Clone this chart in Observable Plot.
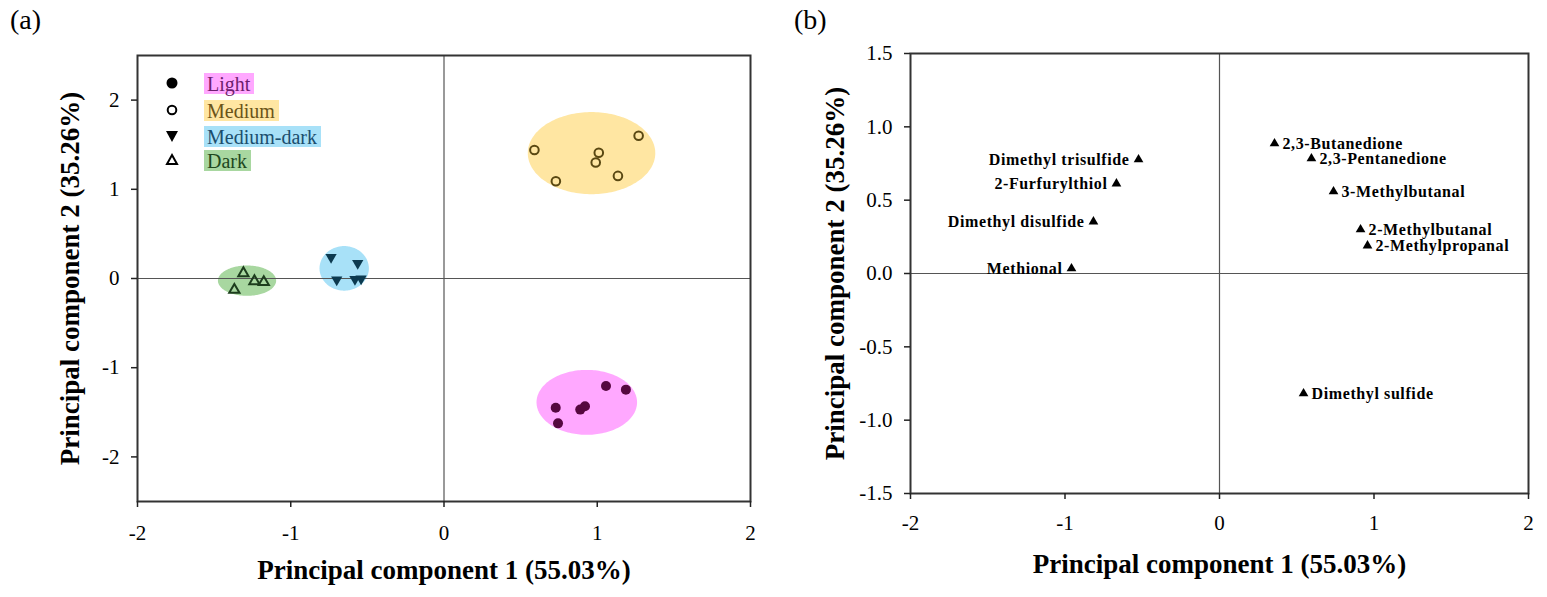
<!DOCTYPE html>
<html>
<head>
<meta charset="utf-8">
<script src="https://cdn.jsdelivr.net/npm/d3@7"></script>
<script src="https://cdn.jsdelivr.net/npm/@observablehq/plot@0.6"></script>
<style>
  body { margin: 0; background: #fff; width: 1547px; height: 597px; position: relative; overflow: hidden;
         font-family: "Liberation Serif", "Times New Roman", serif; }
  .panel { position: absolute; top: 0; }
  #panelA { left: 0; }
  #panelB { left: 780px; }
  /* compound labels are set slightly tracked */
  #panelB g[font-size="16"] text { letter-spacing: 0.6px; }
  .tag { position: absolute; top: 2px; font-size: 28px; line-height: 36px; color: #000; }
  .legend-row { position: absolute; left: 160px; height: 22px; display: flex; align-items: center; }
  .legend-row svg { width: 24px; height: 22px; }
  .legend-row span { margin-left: 20px; font-size: 20px; line-height: 20px; padding: 1px 4px 0 3px; }
</style>
</head>
<body>
<div class="tag" style="left:10px">(a)</div>
<div class="tag" style="left:794px">(b)</div>
<div id="panelA" class="panel"></div>
<div id="panelB" class="panel"></div>
<div id="legend"></div>
<script>
// ---- Score plot: roast levels ----
const roastLevels = ["Light", "Medium", "Medium-dark", "Dark"];

const lightPC1 = [1.057, 1.187, 0.729, 0.889, 0.920, 0.744];
const lightPC2 = [-1.206, -1.246, -1.448, -1.470, -1.433, -1.624];

const mediumPC1 = [0.590, 1.270, 1.010, 0.990, 0.730, 1.135];
const mediumPC2 = [1.440, 1.600, 1.410, 1.300, 1.090, 1.150];

const mediumDarkPC1 = [-0.737, -0.563, -0.700, -0.581, -0.541];
const mediumDarkPC2 = [0.239, 0.171, -0.015, -0.008, -0.003];

const darkPC1 = [-1.309, -1.237, -1.176, -1.368];
const darkPC2 = [0.059, -0.030, -0.041, -0.127];

// Cluster ellipses (same order as roastLevels): centre and semi-axes
const clusterPC1 = [0.935, 0.966, -0.648, -1.282];
const clusterPC2 = [-1.394, 1.400, 0.108, -0.030];
const clusterRadius1 = [0.328, 0.416, 0.161, 0.190];
const clusterRadius2 = [0.364, 0.460, 0.250, 0.170];

// ---- Loading plot: volatile compounds ----
const compounds = ["2,3-Butanedione", "2,3-Pentanedione", "3-Methylbutanal", "2-Methylbutanal",
  "2-Methylpropanal", "Dimethyl sulfide", "Dimethyl trisulfide", "2-Furfurylthiol",
  "Dimethyl disulfide", "Methional"];
const loadingPC1 = [0.356, 0.595, 0.738, 0.913, 0.958, 0.544, -0.524, -0.667, -0.816, -0.958];
const loadingPC2 = [0.886, 0.784, 0.559, 0.300, 0.190, -0.818, 0.777, 0.613, 0.354, 0.034];

const axisTicks = [-2, -1, 0, 1, 2];
const scoreTicksY = [-2, -1, 0, 1, 2];
const loadingTicksY = [-1.5, -1.0, -0.5, 0.0, 0.5, 1.0, 1.5];
const xTitle = "Principal component 1 (55.03%)";
const yTitle = "Principal component 2 (35.26%)";

// Styles
const ellipseFill = ["#ffa8ff", "#ffe6a2", "#a8e1f8", "#a8d7a0"];
const pointColor = ["#55083f", "#5a4812", "#0c3a50", "#1d3d1d"];
const legendText = ["#6e1e6e", "#6b5418", "#1b4e6e", "#1e481e"];

// Downward-pointing triangle symbol
const triangleDown = {
  draw(context, size) {
    const y = Math.sqrt(size / (3 * Math.sqrt(3)));
    context.moveTo(0, 2 * y);
    context.lineTo(Math.sqrt(3) * y, -y);
    context.lineTo(-Math.sqrt(3) * y, -y);
    context.closePath();
  }
};

const zip = (xs, ys) => xs.map((x, i) => ({x, y: ys[i]}));

// Outline of each cluster ellipse as an upper/lower band over PC1
const ellipseBands = roastLevels.flatMap((level, k) => {
  const n = 90;
  return d3.range(n + 1).map(i => {
    const t = Math.PI - (Math.PI * i) / n;
    return {
      level,
      x: clusterPC1[k] + clusterRadius1[k] * Math.cos(t),
      y1: clusterPC2[k] - clusterRadius2[k] * Math.sin(t),
      y2: clusterPC2[k] + clusterRadius2[k] * Math.sin(t)
    };
  });
});

const common = {
  style: {fontFamily: "'Liberation Serif', 'Times New Roman', serif", fontSize: "21px", color: "#000", background: "transparent", overflow: "visible"}
};

const titleStyle = {fontWeight: "bold", fontSize: 27, fontFamily: "'Liberation Serif', 'Times New Roman', serif"};
const compoundStyle = {fontWeight: "bold", fontSize: 16};

const scorePlot = Plot.plot({
  ...common,
  width: 780, height: 597,
  marginLeft: 137, marginRight: 30, marginTop: 55, marginBottom: 96,
  x: {domain: [-2, 2]},
  y: {domain: [-2.5, 2.5]},
  marks: [
    ...roastLevels.map((level, k) =>
      Plot.areaY(ellipseBands.filter(d => d.level === level), {x: "x", y1: "y1", y2: "y2", fill: ellipseFill[k], curve: "linear"})),
    Plot.ruleX([0], {stroke: "#555", strokeWidth: 1.2}),
    Plot.ruleY([0], {stroke: "#555", strokeWidth: 1.2}),
    Plot.dot(zip(lightPC1, lightPC2), {x: "x", y: "y", r: 5, fill: pointColor[0], stroke: "none"}),
    Plot.dot(zip(mediumPC1, mediumPC2), {x: "x", y: "y", r: 4.3, fill: "none", stroke: pointColor[1], strokeWidth: 2}),
    Plot.dot(zip(mediumDarkPC1, mediumDarkPC2), {x: "x", y: "y", r: 4.2, symbol: triangleDown, fill: pointColor[2], stroke: "none"}),
    Plot.dot(zip(darkPC1, darkPC2), {x: "x", y: "y", r: 3.8, symbol: "triangle", fill: "none", stroke: pointColor[3], strokeWidth: 2}),
    Plot.frame({stroke: "#333", strokeWidth: 2}),
    Plot.axisX({ticks: axisTicks, tickSize: 6, tickPadding: 18, tickFormat: d => String(d), stroke: "#222", strokeWidth: 1.5, label: null}),
    Plot.axisY({ticks: scoreTicksY, tickSize: 6, tickPadding: 12, tickFormat: d => String(d), stroke: "#222", strokeWidth: 1.5, label: null}),
    Plot.text([xTitle], {frameAnchor: "bottom", dy: 77, ...titleStyle}),
    Plot.text([yTitle], {frameAnchor: "left", dx: -67, rotate: -90, textAnchor: "middle", ...titleStyle})
  ]
});
document.getElementById("panelA").appendChild(scorePlot);

const loadings = compounds.map((name, i) => ({name, x: loadingPC1[i], y: loadingPC2[i]}));

const loadingPlot = Plot.plot({
  ...common,
  width: 767, height: 597,
  marginLeft: 130, marginRight: 19, marginTop: 53, marginBottom: 104,
  x: {domain: [-2, 2]},
  y: {domain: [-1.5, 1.5]},
  marks: [
    Plot.ruleX([0], {stroke: "#555", strokeWidth: 1.2}),
    Plot.ruleY([0], {stroke: "#555", strokeWidth: 1.2}),
    Plot.dot(loadings, {x: "x", y: "y", r: 3.6, symbol: "triangle", fill: "#000", stroke: "none"}),
    Plot.text(loadings.filter(d => d.x > 0), {x: "x", y: "y", text: "name", textAnchor: "start", dx: 8, ...compoundStyle}),
    Plot.text(loadings.filter(d => d.x < 0), {x: "x", y: "y", text: "name", textAnchor: "end", dx: -9, ...compoundStyle}),
    Plot.frame({stroke: "#333", strokeWidth: 2}),
    Plot.axisX({ticks: axisTicks, tickSize: 6, tickPadding: 16, tickFormat: d => String(d), stroke: "#222", strokeWidth: 1.5, label: null}),
    Plot.axisY({ticks: loadingTicksY, tickSize: 6, tickPadding: 12, tickFormat: d => d.toFixed(1), stroke: "#222", strokeWidth: 1.5, label: null}),
    Plot.text([xTitle], {frameAnchor: "bottom", dy: 79, ...titleStyle}),
    Plot.text([yTitle], {frameAnchor: "left", dx: -75, rotate: -90, textAnchor: "middle", ...titleStyle})
  ]
});
document.getElementById("panelB").appendChild(loadingPlot);

// Legend for the roast levels
const legendY = [83, 110, 136, 160];
const legendSymbols = [
  '<circle cx="12" cy="11" r="5.5" fill="#000"/>',
  '<circle cx="12" cy="11" r="4.3" fill="none" stroke="#000" stroke-width="2"/>',
  '<path d="M6,6 L18,6 L12,17 Z" fill="#000"/>',
  '<path d="M12,6 L17,15 L7,15 Z" fill="none" stroke="#000" stroke-width="2"/>'
];
const legend = document.getElementById("legend");
roastLevels.forEach((level, k) => {
  const row = document.createElement("div");
  row.className = "legend-row";
  row.style.top = (legendY[k] - 11) + "px";
  row.innerHTML = `<svg viewBox="0 0 24 22">${legendSymbols[k]}</svg>` +
    `<span style="background:${ellipseFill[k]};color:${legendText[k]}">${level}</span>`;
  legend.appendChild(row);
});
</script>
</body>
</html>
